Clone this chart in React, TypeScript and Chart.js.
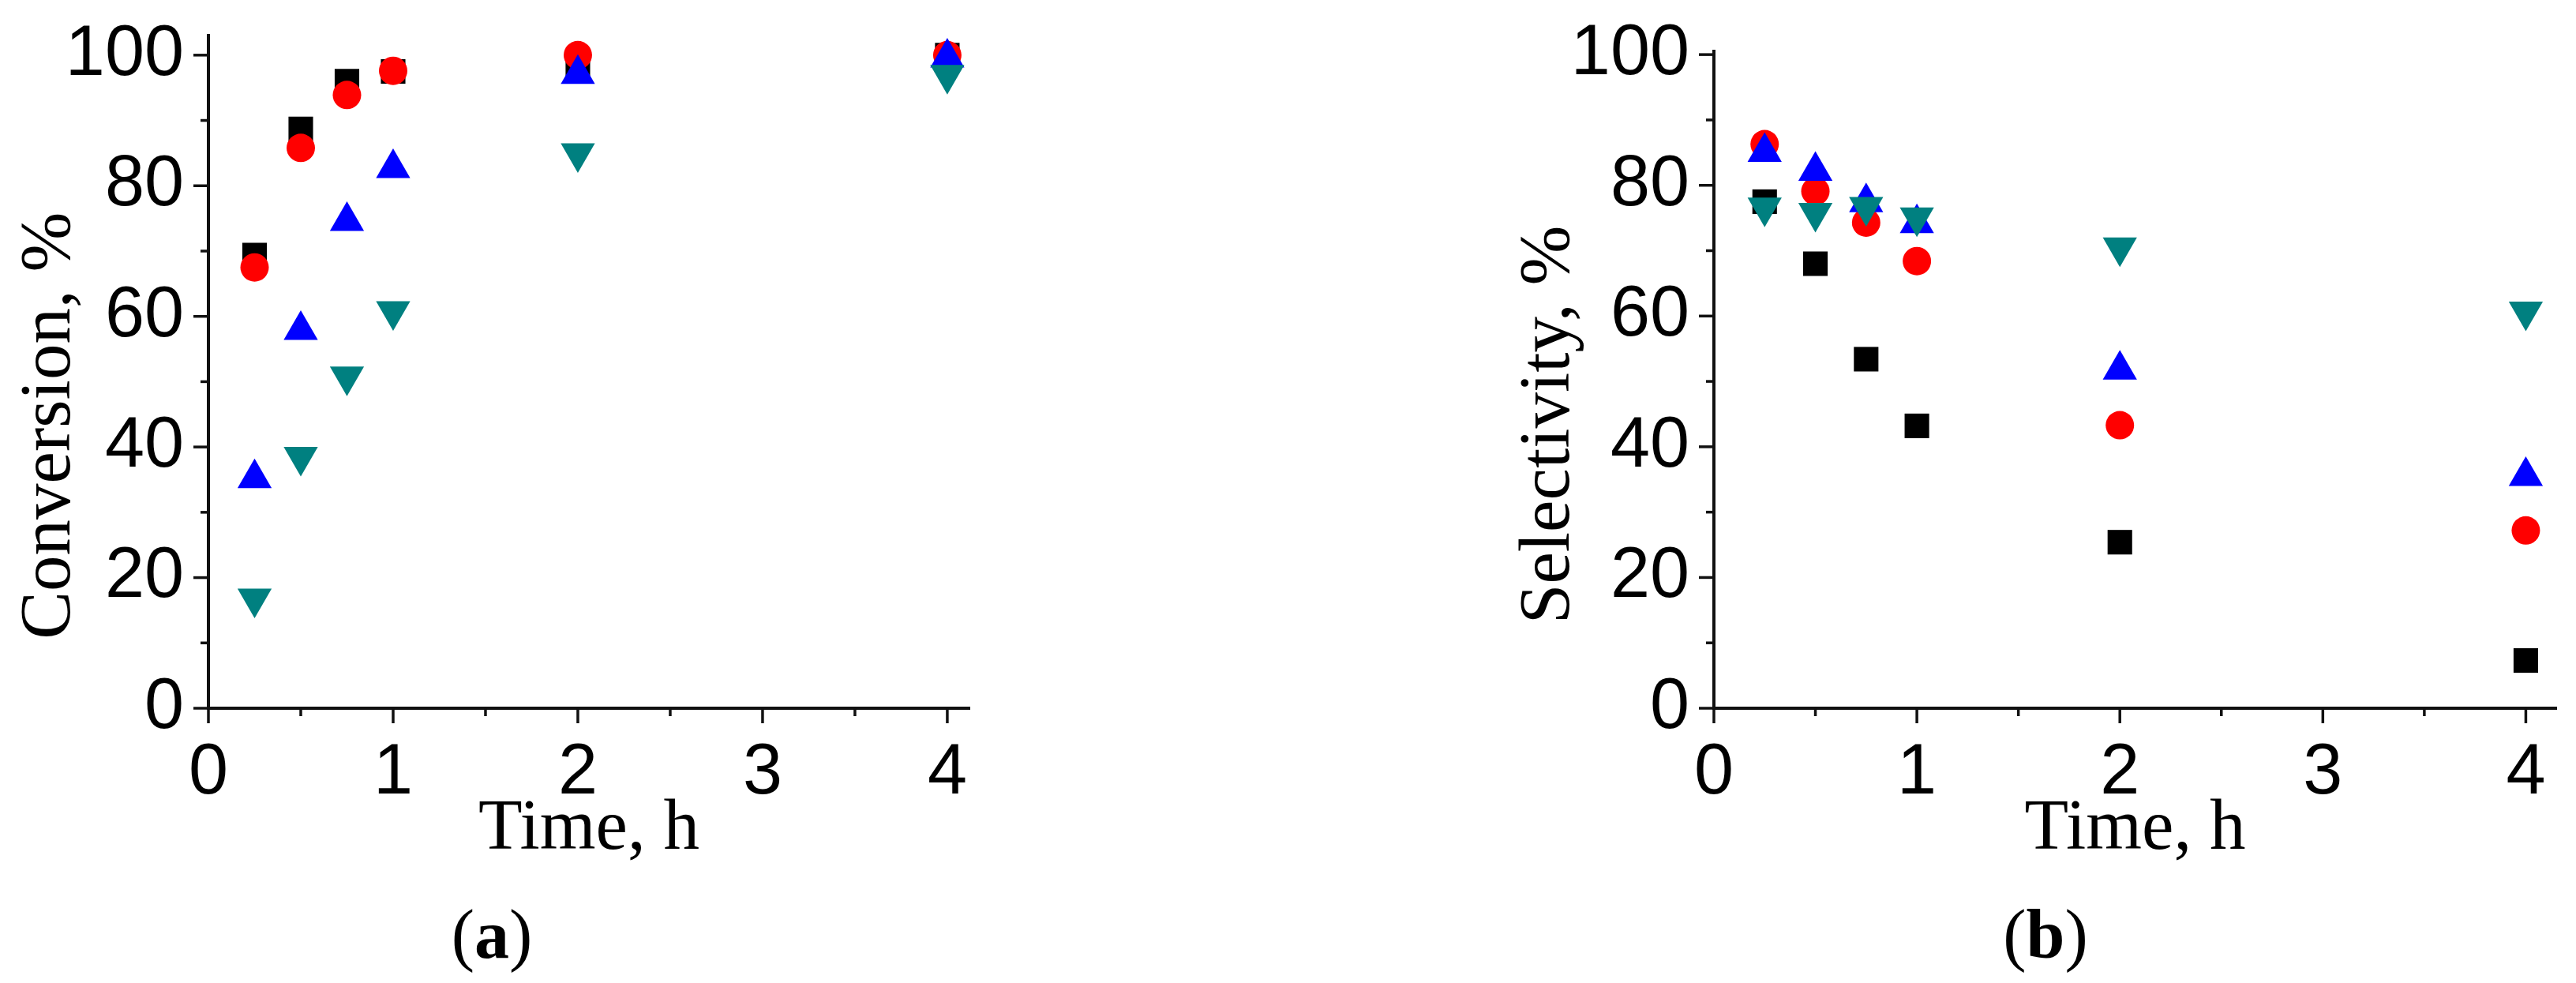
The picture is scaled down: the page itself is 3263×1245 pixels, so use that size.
import React, { useEffect, useRef } from "react";
import { Chart, registerables } from "chart.js";

Chart.register(...registerables);

// ---- data ----
const timeH = [0.25, 0.5, 0.75, 1, 2, 4];

const convBlack = [69.4, 88.7, 96.0, 97.5, 98.5, 100.0];
const convRed = [67.5, 85.8, 93.9, 97.6, 100.0, 100.0];
const convBlue = [35.2, 57.9, 74.6, 82.7, 97.1, 99.6];
const convTeal = [16.8, 38.5, 50.8, 60.8, 85.0, 97.0];

const selBlack = [77.5, 68.0, 53.4, 43.2, 25.4, 7.3];
const selRed = [86.3, 79.1, 74.3, 68.4, 43.3, 27.2];
const selBlue = [85.1, 82.2, 77.4, 74.2, 51.8, 35.5];
const selTeal = [76.6, 75.8, 76.7, 75.1, 70.5, 60.7];

const xTickLabels = ["0", "1", "2", "3", "4"];
const yTickLabels = ["0", "20", "40", "60", "80", "100"];

const SANS = "'Liberation Sans', Arial, sans-serif";
const SERIF = "'Liberation Serif', 'Times New Roman', serif";
const AXIS = "#111111";
const SHIFT = 80; // canvas extends above the page top so Chart.js label padding does not push the plot down
const CANVAS_H = 1245 + SHIFT;

const tickPlugin = {
  id: "customTicks",
  afterDraw(chart: any) {
    const ctx = chart.ctx;
    const xs = chart.scales.x;
    const ys = chart.scales.y;
    const { left, bottom } = chart.chartArea;
    ctx.save();
    ctx.strokeStyle = AXIS;
    ctx.lineWidth = 3.5;
    xs.ticks.forEach((t: any) => {
      const px = xs.getPixelForValue(t.value);
      const major = Math.abs(t.value - Math.round(t.value)) < 1e-6;
      const len = major ? 19 : 10;
      ctx.beginPath();
      ctx.moveTo(px, bottom);
      ctx.lineTo(px, bottom + len);
      ctx.stroke();
    });
    ys.ticks.forEach((t: any) => {
      const py = ys.getPixelForValue(t.value);
      const major = Math.round(t.value) % 20 === 0;
      const len = major ? 19 : 10;
      ctx.beginPath();
      ctx.moveTo(left, py);
      ctx.lineTo(left - len, py);
      ctx.stroke();
    });
    ctx.restore();
  },
};

function mk(data: number[]) {
  return timeH.map((t, i) => ({ x: t, y: data[i] }));
}

type PanelProps = {
  left: number;
  width: number;
  yWidth: number;
  padTop: number;
  padRight: number;
  xMax: number;
  yMax: number;
  yTitle: string;
  yTitlePad: number;
  series: number[][];
};

function Panel(p: PanelProps) {
  const ref = useRef<HTMLCanvasElement>(null);
  useEffect(() => {
    if (!ref.current) return;
    const colors = ["#000000", "#FF0000", "#0000FF", "#008080"];
    const styles = ["rect", "circle", "triangle", "triangle"];
    const radii = [22, 18, 25, 25];
    const rot = [0, 0, 0, 180];
    const names = ["S1", "S2", "S3", "S4"];
    const chart = new Chart(ref.current, {
      type: "scatter",
      data: {
        datasets: p.series.map((s, i) => ({
          label: names[i],
          data: mk(s),
          backgroundColor: colors[i],
          borderColor: colors[i],
          pointStyle: styles[i] as any,
          pointRadius: radii[i],
          pointRotation: rot[i],
          pointBorderWidth: 0,
          showLine: false,
          order: 4 - i,
          clip: false as any,
        })),
      },
      options: {
        animation: false,
        responsive: false,
        layout: { padding: { left: 0, top: p.padTop + SHIFT, right: p.padRight, bottom: 0 } },
        plugins: { legend: { display: false }, tooltip: { enabled: false } },
        scales: {
          x: {
            type: "linear",
            min: 0,
            max: p.xMax,
            afterFit: (s: any) => {
              s.height = 1245 - 897;
            },
            grid: { display: false, drawTicks: true, tickLength: 19 },
            border: { display: true, color: AXIS, width: 4 },
            ticks: {
              stepSize: 0.5,
              includeBounds: false,
              autoSkip: false,
              maxRotation: 0,
              padding: 10,
              color: "#000",
              font: { family: SANS, size: 90 },
              callback: (v: any) => {
                const n = Number(v);
                return Math.abs(n - Math.round(n)) < 1e-6 ? xTickLabels[Math.round(n)] : "";
              },
            },
            title: {
              display: true,
              text: "Time, h",
              color: "#000",
              font: { family: SERIF, size: 91 },
              padding: { top: 0, bottom: 139 },
            },
          },
          y: {
            type: "linear",
            min: 0,
            max: p.yMax,
            afterFit: (s: any) => {
              s.width = p.yWidth;
            },
            grid: { display: false, drawTicks: true, tickLength: 19 },
            border: { display: true, color: AXIS, width: 4 },
            ticks: {
              stepSize: 10,
              includeBounds: false,
              autoSkip: false,
              padding: 12,
              color: "#000",
              font: { family: SANS, size: 90 },
              callback: (v: any) => {
                const n = Math.round(Number(v));
                return n % 20 === 0 ? yTickLabels[n / 20] : "";
              },
            },
            title: {
              display: true,
              text: p.yTitle,
              color: "#000",
              font: { family: SERIF, size: 91 },
              padding: { top: p.yTitlePad, bottom: 0 },
            },
          },
        },
      },
      plugins: [tickPlugin],
    });
    return () => chart.destroy();
  }, []);
  return (
    <canvas
      ref={ref}
      width={p.width}
      height={CANVAS_H}
      style={{ position: "absolute", left: p.left, top: -SHIFT, width: p.width, height: CANVAS_H, display: "block" }}
    />
  );
}

const labelStyle = (cx: number): React.CSSProperties => ({
  position: "absolute",
  left: cx - 150,
  width: 300,
  top: 1140,
  textAlign: "center",
  fontFamily: SERIF,
  fontSize: 88,
  lineHeight: "88px",
  color: "#000",
});

export default function App() {
  return (
    <div style={{ position: "absolute", left: 0, top: 0, width: 3263, height: 1245, background: "#fff", overflow: "hidden" }}>
      <Panel
        left={0}
        width={1300}
        yWidth={264}
        padTop={45}
        padRight={72}
        xMax={4.12}
        yMax={103}
        yTitle={"Conversion, %      "}
        yTitlePad={9}
        series={[convBlack, convRed, convBlue, convTeal]}
      />
      <Panel
        left={1850}
        width={1413}
        yWidth={321}
        padTop={65}
        padRight={20}
        xMax={4.15}
        yMax={100.5}
        yTitle={"Selectivity, %     "}
        yTitlePad={58}
        series={[selBlack, selRed, selBlue, selTeal]}
      />
      <div style={labelStyle(623)}>
        (<b>a</b>)
      </div>
      <div style={labelStyle(2591)}>
        (<b>b</b>)
      </div>
    </div>
  );
}
